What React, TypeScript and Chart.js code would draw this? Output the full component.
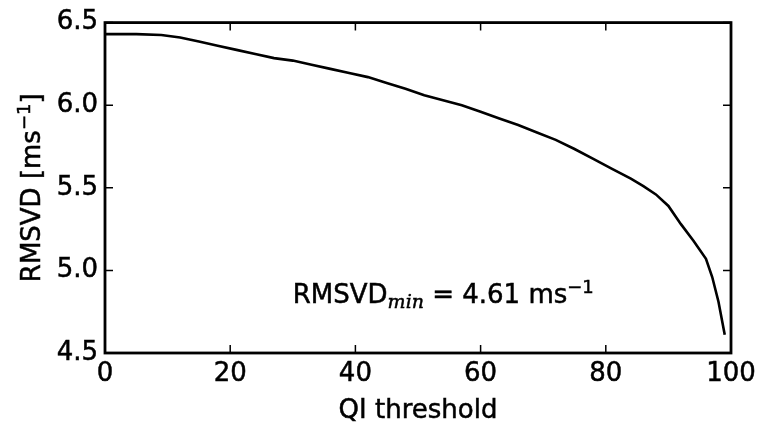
import React, { useEffect, useRef } from "react";
import { Chart, registerables } from "chart.js";

Chart.register(...registerables);

// QI threshold (x) and RMSVD [m/s] (y)
const qiThreshold = [
  0, 5, 9, 12, 15, 18, 21, 24, 27, 30, 33, 36, 39, 42, 45, 48, 51, 54, 57, 60,
  63, 66, 69, 72, 75, 78, 81, 84, 86, 88, 90, 92, 94, 96, 97, 98, 99,
];
const rmsvd = [
  6.43, 6.43, 6.425, 6.41, 6.385, 6.36, 6.335, 6.31, 6.285, 6.27, 6.245, 6.22,
  6.195, 6.17, 6.135, 6.1, 6.06, 6.03, 6.0, 5.96, 5.92, 5.88, 5.835, 5.79,
  5.735, 5.675, 5.615, 5.555, 5.51, 5.46, 5.39, 5.28, 5.18, 5.07, 4.96, 4.81,
  4.61,
];

const xTickValues = [0, 20, 40, 60, 80, 100];
const xTickLabels = ["0", "20", "40", "60", "80", "100"];
const yTickValues = [4.5, 5.0, 5.5, 6.0, 6.5];
const yTickLabels = ["4.5", "5.0", "5.5", "6.0", "6.5"];

const minLabelAt = { x: 30, y: 4.8 };
const minValueText = "4.61";

const FONT = "DejaVu Sans";
const SIZE = 26;
const STROKE = 0.5; // a touch heavier, like the original raster

type Seg = { text: string; size: number; dy: number; family?: string; italic?: boolean };

function segFont(s: Seg) {
  return `${s.italic ? "italic " : ""}${s.size}px "${s.family ?? FONT}"`;
}

function segsWidth(ctx: CanvasRenderingContext2D, segs: Seg[]) {
  let w = 0;
  for (const s of segs) {
    ctx.font = segFont(s);
    w += ctx.measureText(s.text).width;
  }
  return w;
}

function drawSegs(ctx: CanvasRenderingContext2D, segs: Seg[], x: number, y: number) {
  let cx = x;
  ctx.textAlign = "left";
  ctx.textBaseline = "alphabetic";
  ctx.lineWidth = STROKE;
  for (const s of segs) {
    ctx.font = segFont(s);
    ctx.fillText(s.text, cx, y + s.dy);
    ctx.strokeText(s.text, cx, y + s.dy);
    cx += ctx.measureText(s.text).width;
  }
}

const decorPlugin = {
  id: "decor",
  afterDraw(chart: any) {
    const { ctx, chartArea: a, scales } = chart;
    ctx.save();
    ctx.strokeStyle = "#000";
    ctx.fillStyle = "#000";

    // inward ticks on all four sides
    ctx.lineWidth = 1.5;
    ctx.beginPath();
    for (const v of xTickValues) {
      const px = scales.x.getPixelForValue(v);
      ctx.moveTo(px, a.bottom);
      ctx.lineTo(px, a.bottom - 8);
      ctx.moveTo(px, a.top);
      ctx.lineTo(px, a.top + 8);
    }
    for (const v of yTickValues) {
      const py = scales.y.getPixelForValue(v);
      ctx.moveTo(a.left, py);
      ctx.lineTo(a.left + 8, py);
      ctx.moveTo(a.right, py);
      ctx.lineTo(a.right - 8, py);
    }
    ctx.stroke();

    // frame
    ctx.lineWidth = 2.8;
    ctx.strokeRect(a.left, a.top, a.right - a.left, a.bottom - a.top);

    // x title
    drawSegs(
      ctx,
      [{ text: "QI threshold", size: SIZE, dy: 0 }],
      (a.left + a.right) / 2 - segsWidth(ctx, [{ text: "QI threshold", size: SIZE, dy: 0 }]) / 2,
      418
    );

    // y title with superscript
    const ySegs: Seg[] = [
      { text: "RMSVD [ms", size: SIZE, dy: 0 },
      { text: "\u22121", size: 18, dy: -10 },
      { text: "]", size: SIZE, dy: 0 },
    ];
    const yw = segsWidth(ctx, ySegs);
    ctx.save();
    ctx.translate(40, (a.top + a.bottom) / 2);
    ctx.rotate(-Math.PI / 2);
    drawSegs(ctx, ySegs, -yw / 2, 0);
    ctx.restore();

    // annotation
    const aSegs: Seg[] = [
      { text: "RMSVD", size: SIZE, dy: 0 },
      { text: "min", size: 19, dy: 5, family: "DejaVu Serif", italic: true },
      { text: ` = ${minValueText} ms`, size: SIZE, dy: 0 },
      { text: "\u22121", size: 18, dy: -10 },
    ];
    drawSegs(
      ctx,
      aSegs,
      scales.x.getPixelForValue(minLabelAt.x),
      scales.y.getPixelForValue(minLabelAt.y)
    );
    ctx.restore();
  },
};

export default function App() {
  const canvasRef = useRef<HTMLCanvasElement>(null);

  useEffect(() => {
    document.body.style.margin = "0";
    if (!canvasRef.current) return;
    const chart = new Chart(canvasRef.current, {
      type: "line",
      data: {
        datasets: [
          {
            data: qiThreshold.map((x, i) => ({ x, y: rmsvd[i] })),
            borderColor: "#000",
            borderWidth: 2.6,
            pointRadius: 0,
            tension: 0,
            fill: false,
          },
        ],
      },
      options: {
        animation: false,
        responsive: true,
        maintainAspectRatio: false,
        layout: { padding: { top: 20, right: 31, left: 0, bottom: 0 } },
        plugins: { legend: { display: false }, tooltip: { enabled: false } },
        scales: {
          x: {
            type: "linear",
            min: 0,
            max: 100,
            grid: { display: false, drawTicks: false },
            border: { display: false },
            afterBuildTicks: (s: any) => {
              s.ticks = xTickValues.map((v) => ({ value: v }));
            },
            afterFit: (s: any) => {
              s.height = 73;
            },
            ticks: {
              color: "#000",
              font: { family: FONT, size: SIZE },
              textStrokeColor: "#000",
              textStrokeWidth: STROKE,
              padding: 6,
              maxRotation: 0,
              callback: (_v: any, i: number) => xTickLabels[i],
            },
          },
          y: {
            type: "linear",
            min: 4.5,
            max: 6.5,
            grid: { display: false, drawTicks: false },
            border: { display: false },
            afterBuildTicks: (s: any) => {
              s.ticks = yTickValues.map((v) => ({ value: v }));
            },
            afterFit: (s: any) => {
              s.width = 105;
            },
            ticks: {
              color: "#000",
              font: { family: FONT, size: SIZE },
              textStrokeColor: "#000",
              textStrokeWidth: STROKE,
              padding: 7,
              callback: (_v: any, i: number) => yTickLabels[i],
            },
          },
        },
      },
      plugins: [decorPlugin],
    });
    return () => chart.destroy();
  }, []);

  return (
    <div style={{ width: 762, height: 426, position: "relative", background: "#fff" }}>
      <canvas ref={canvasRef} />
    </div>
  );
}
